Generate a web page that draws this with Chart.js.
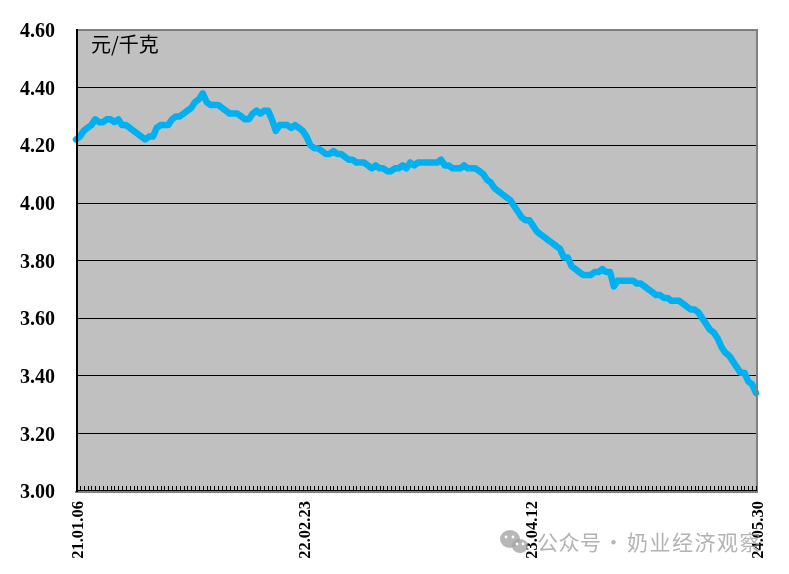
<!DOCTYPE html>
<html><head><meta charset="utf-8">
<style>html,body{margin:0;padding:0;background:#fff}canvas{display:block}</style>
<script src="https://cdn.jsdelivr.net/npm/chart.js@4"></script>
</head><body><canvas id="c" width="789" height="574"></canvas>
<script>
const values = [4.22,4.23,4.25,4.26,4.27,4.29,4.28,4.28,4.29,4.29,4.28,4.29,4.27,4.27,4.26,4.25,4.24,4.23,4.22,4.23,
4.23,4.26,4.27,4.27,4.27,4.29,4.30,4.30,4.31,4.32,4.33,4.35,4.36,4.38,4.35,4.34,4.34,4.34,4.33,4.32,
4.31,4.31,4.31,4.30,4.29,4.29,4.31,4.32,4.31,4.32,4.32,4.29,4.25,4.27,4.27,4.27,4.26,4.27,4.26,4.25,
4.23,4.20,4.19,4.19,4.18,4.17,4.17,4.18,4.17,4.17,4.16,4.15,4.15,4.14,4.14,4.14,4.13,4.12,4.13,4.12,
4.12,4.11,4.11,4.12,4.12,4.13,4.12,4.14,4.13,4.14,4.14,4.14,4.14,4.14,4.14,4.15,4.13,4.13,4.12,4.12,
4.12,4.13,4.12,4.12,4.12,4.11,4.10,4.08,4.07,4.05,4.04,4.03,4.02,4.01,3.99,3.97,3.95,3.94,3.94,3.92,
3.90,3.89,3.88,3.87,3.86,3.85,3.84,3.81,3.81,3.78,3.77,3.76,3.75,3.75,3.75,3.76,3.76,3.77,3.76,3.76,
3.71,3.73,3.73,3.73,3.73,3.73,3.72,3.72,3.71,3.70,3.69,3.68,3.68,3.67,3.67,3.66,3.66,3.66,3.65,3.64,
3.63,3.63,3.62,3.60,3.58,3.56,3.55,3.53,3.50,3.48,3.47,3.45,3.43,3.41,3.41,3.38,3.37,3.34];
const tickLabels = ['21.01.06','22.02.23','23.04.12','24.05.30'];
const tickStep = 59;
const categories = values.map((_, i) => i % tickStep === 0 ? tickLabels[i / tickStep] : '');
const unitText = '元/千克';
const watermarkA = '公众号';
const watermarkB = '奶业经济观察';

const decor = {
  id: 'decor',
  beforeDatasetsDraw(chart) {
    const {ctx, chartArea: a} = chart;
    ctx.save();
    ctx.fillStyle = '#C0C0C0';
    ctx.fillRect(a.left, a.top, a.right - a.left, a.bottom - a.top);
    ctx.restore();
    const y = chart.scales.y;
    ctx.save();
    ctx.strokeStyle = '#000';
    ctx.lineWidth = 1;
    [4.4,4.2,4.0,3.8,3.6,3.4,3.2].forEach(v => {
      const p = Math.round(y.getPixelForValue(v) - 0.3) + 0.5;
      ctx.beginPath(); ctx.moveTo(a.left, p); ctx.lineTo(a.right, p); ctx.stroke();
    });
    ctx.restore();
  },
  afterDatasetsDraw(chart) {
    const {ctx, chartArea: a, scales} = chart;
    ctx.save();
    // frame
    ctx.fillStyle = '#808080';
    ctx.fillRect(a.left, a.top - 1, a.right - a.left + 2, 2);
    ctx.fillRect(a.right, a.top - 1, 2, a.bottom - a.top + 3);
    ctx.fillRect(a.left - 1, a.bottom, a.right - a.left + 3, 2);
    ctx.fillStyle = '#000';
    ctx.fillRect(a.left, a.top - 1, 2, a.bottom - a.top + 2);
    ctx.fillRect(a.left, a.bottom - 1, a.right - a.left, 1);
    // inner ticks
    ctx.strokeStyle = '#000';
    ctx.lineWidth = 1;
    scales.x.ticks.forEach((t, i) => {
      const p = Math.round(scales.x.getPixelForTick(i)) + 0.5;
      ctx.beginPath(); ctx.moveTo(p, a.bottom - 5); ctx.lineTo(p, a.bottom); ctx.stroke();
    });
    // unit
    ctx.fillStyle = '#000';
    ctx.font = '20px "Noto Sans CJK SC"';
    ctx.textBaseline = 'middle';
    ctx.textAlign = 'left';
    ctx.fillText(unitText, 91, 44);
    // watermark
    ctx.fillStyle = 'rgba(150,150,150,0.72)';
    ctx.font = '21px "Noto Sans CJK SC"';
    ctx.letterSpacing = '0.5px';
    ctx.fillText(watermarkA, 537, 542);
    ctx.fillText('·', 603, 542);
    ctx.letterSpacing = '1.5px';
    ctx.fillText(watermarkB, 627, 542);
    ctx.letterSpacing = '0px';
    ctx.fillStyle = 'rgba(165,165,165,0.8)';
    ctx.beginPath(); ctx.ellipse(510, 539, 10, 9, 0, 0, Math.PI * 2); ctx.fill();
    ctx.beginPath(); ctx.ellipse(520, 546, 8, 7, 0, 0, Math.PI * 2); ctx.fill();
    ctx.fillStyle = '#fff';
    [[506,537],[513,537],[517,544],[523,544]].forEach(([x, yy]) => {
      ctx.beginPath(); ctx.arc(x, yy, 1.4, 0, Math.PI * 2); ctx.fill();
    });
    ctx.restore();
  }
};

new Chart(document.getElementById('c'), {
  type: 'line',
  data: {
    labels: categories,
    datasets: [{
      data: values,
      borderColor: '#00B0F0',
      borderWidth: 6.5,
      borderCapStyle: 'round',
      borderJoinStyle: 'round',
      pointRadius: 0,
      tension: 0,
      fill: false,
      clip: false
    }]
  },
  options: {
    responsive: false,
    animation: false,
    layout: {padding: {top: 30, right: 33, left: 0, bottom: 0}},
    plugins: {legend: {display: false}, title: {display: false}, tooltip: {enabled: false}},
    scales: {
      x: {
        type: 'category',
        offset: false,
        grid: {display: false, drawTicks: false},
        border: {display: false},
        afterFit(s) { s.height = 83; s.paddingLeft = 0; s.paddingRight = 0; },
        ticks: {
          autoSkip: false,
          minRotation: 90,
          maxRotation: 90,
          padding: 10,
          labelOffset: 3,
          color: '#000',
          font: {family: '"Liberation Sans Narrow"', size: 16.5, weight: 'bold'}
        }
      },
      y: {
        min: 3,
        max: 4.6,
        grid: {display: false, drawTicks: false},
        border: {display: false},
        afterFit(s) { s.width = 76; s.paddingTop = 0; s.paddingBottom = 0; },
        ticks: {
          stepSize: 0.2,
          padding: 21,
          labelOffset: 2,
          color: '#000',
          font: {family: '"Liberation Serif"', size: 20, weight: 'bold'},
          callback: v => Number(v).toFixed(2)
        }
      }
    }
  },
  plugins: [decor]
});
</script></body></html>
